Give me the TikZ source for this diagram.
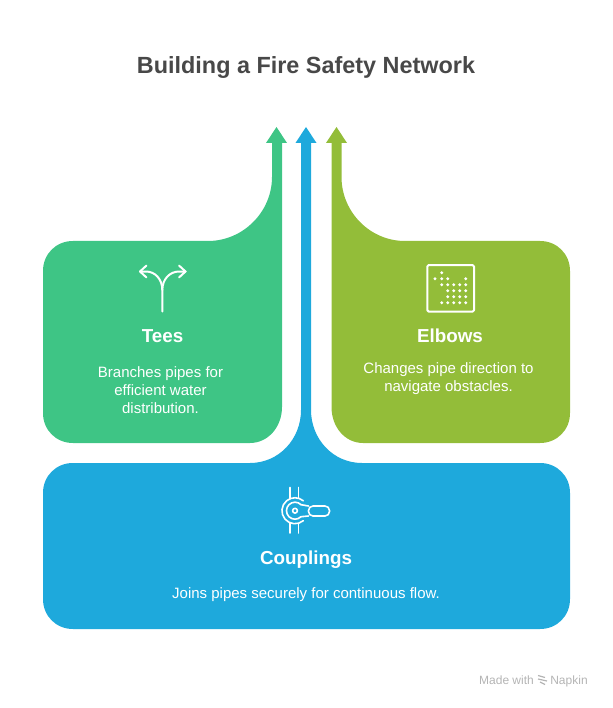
\documentclass[tikz,border=0pt]{standalone}
\usepackage{fontspec}
\setmainfont{Liberation Sans}
\definecolor{teescol}{HTML}{3EC585}
\definecolor{couplingscol}{HTML}{1EA9DC}
\definecolor{elbowscol}{HTML}{93BD39}
\definecolor{titlecol}{HTML}{484848}
\definecolor{footcol}{HTML}{B4B4B4}
\newcommand{\fsize}[2]{\fontsize{#1}{#2}\selectfont}
\begin{document}
\begin{tikzpicture}[x=1pt, y=-1pt,
    heading/.style={text=white, anchor=base, font=\fsize{18.8}{20}\bfseries},
    blurb/.style={text=white, anchor=base, font=\fsize{15}{18}, align=center},
    footing/.style={text=footcol, anchor=base, font=\fsize{12}{14}},
    glyph/.style={draw=white, line width=2pt, line cap=round, line join=round},
    thinglyph/.style={glyph, line width=1.6pt},
    speck/.style={fill=white, circle, inner sep=0pt, minimum size=3.2pt}]
  \useasboundingbox (0,0) rectangle (612,708);
  \node [text=titlecol, anchor=base, font=\fsize{23.4}{26}\bfseries] (title) at (306,73.5) {Building a Fire Safety Network};

  % shapes
  \fill [teescol] (73,241) -- (208,241) .. controls (243,241) and (272,212) .. (272,177)
    -- (272,143) -- (266,143) -- (276.5,127) -- (287,143) -- (282,143) -- (282,407)
    .. controls (282,427) and (268,443) .. (250,443) -- (73,443)
    .. controls (56,443) and (43,430) .. (43,413) -- (43,271)
    .. controls (43,254) and (56,241) .. (73,241) -- cycle;
  \fill [elbowscol] (540,241) -- (405,241) .. controls (370,241) and (341.5,212) .. (341.5,177)
    -- (341.5,143) -- (347,143) -- (336.5,127) -- (326,143) -- (331.5,143) -- (331.5,407)
    .. controls (331.5,427) and (345,443) .. (363,443) -- (540,443)
    .. controls (557,443) and (570,430) .. (570,413) -- (570,271)
    .. controls (570,254) and (557,241) .. (540,241) -- cycle;
  \fill [couplingscol] (73,463) -- (250,463) .. controls (279,463) and (301,439) .. (301,410)
    -- (301,143) -- (295.5,143) -- (306,127) -- (316.5,143) -- (311,143) -- (311,410)
    .. controls (311,439) and (333,463) .. (362,463) -- (540,463)
    .. controls (557,463) and (570,476) .. (570,493) -- (570,599)
    .. controls (570,616) and (557,629) .. (540,629) -- (73,629)
    .. controls (56,629) and (43,616) .. (43,599) -- (43,493)
    .. controls (43,476) and (56,463) .. (73,463) -- cycle;

  % tees icon
  \draw [glyph] (162.3,311.5) -- (162.3,290) .. controls (162.3,279) and (155,271.5) .. (146,271.5) -- (140,271.5);
  \draw [glyph] (162.3,290) .. controls (162.3,279) and (170,271.5) .. (179,271.5) -- (185.5,271.5);
  \draw [glyph] (146.5,265.5) -- (140,271.5) -- (146.5,277.5);
  \draw [glyph] (179,265.5) -- (185.5,271.5) -- (179,277.5);

  % elbows icon
  \draw [glyph, rounded corners=1.5pt] (427.3,265) rectangle (474,311.7);
  \foreach \px/\py in {441.7/272.7,
      435/278.7, 441.7/278.7, 447.7/278.7, 465.7/278.7,
      441.7/284.7, 447.7/284.7, 453.7/284.7, 459.7/284.7, 465.7/284.7,
      447.7/290.7, 453.7/290.7, 459.7/290.7, 465.7/290.7,
      447.7/296.7, 453.7/296.7, 459.7/296.7, 465.7/296.7,
      441.7/302.7, 447.7/302.7, 453.7/302.7, 459.7/302.7, 465.7/302.7}
    \node [speck] at (\px,\py) {};

  % couplings icon
  \draw [thinglyph] (290,487.5) -- (290,498.7) (298.3,487.5) -- (298.3,498);
  \draw [thinglyph] (290,522.7) -- (290,533) (298.3,523.4) -- (298.3,533);
  \draw [thinglyph] (295,510.7) circle (2.4);
  \draw [thinglyph] (301,516.7) arc (45:315:8.5);
  \draw [thinglyph] (303.3,520.7) arc (50:310:13);
  \draw [thinglyph, rounded corners=4.5pt] (308.5,506) rectangle (329.5,516);
  \draw [thinglyph] (301,504.7) -- (308.5,506) (301,516.7) -- (308.5,516);

  % labels
  \node [heading] (teeshead) at (162.5,342.5) {Tees};
  \node [heading] (elbowshead) at (450,342.5) {Elbows};
  \node [heading] (couplingshead) at (306,564) {Couplings};
  \node [blurb] (teestext) at (160.5,413.5) {Branches pipes for\\efficient water\\distribution.};
  \node [blurb] (elbowstext) at (448.5,391.5) {Changes pipe direction to\\navigate obstacles.};
  \node [blurb] (couplingstext) at (306,598) {Joins pipes securely for continuous flow.};

  % footer
  \node [footing] (madewith) at (506.5,684) {Made with};
  \node [footing] (napkin) at (569,684) {Napkin};
  \draw [footcol, line width=1.2pt] (538,675.5) -- (545,677.5) (538,679) -- (547,681) (540,682) -- (545,684.5);
\end{tikzpicture}
\end{document}
